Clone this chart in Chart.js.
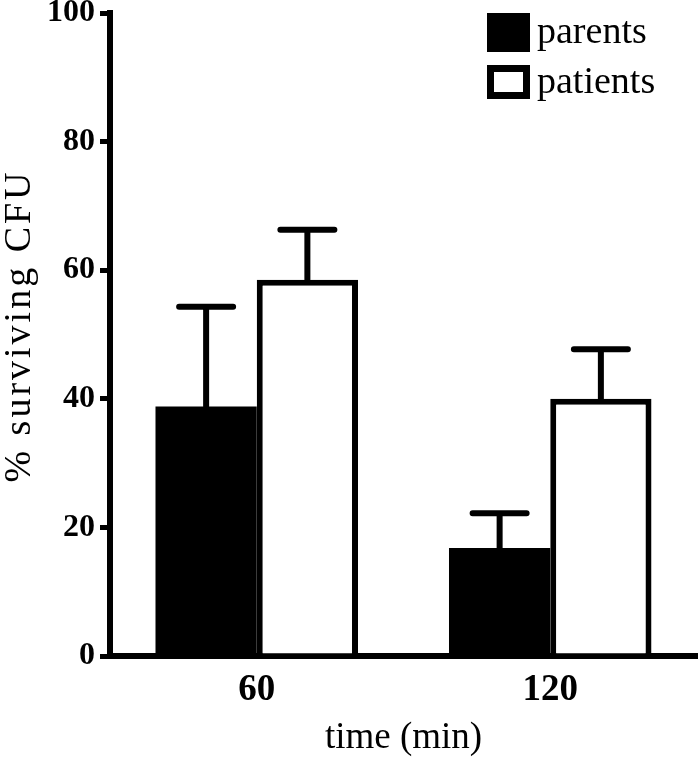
<!DOCTYPE html>
<html>
<head>
<meta charset="utf-8">
<script src="https://cdn.jsdelivr.net/npm/chart.js@4.4.1/dist/chart.umd.min.js"></script>
<style>
html, body { margin: 0; padding: 0; background: #fff; }
#chart { display: block; }
</style>
</head>
<body>
<canvas id="chart" width="700" height="760"></canvas>
<script>
const categories = ["60", "120"];
const parentsValues = [38.8, 16.8];
const parentsErrors = [15.5, 5.4];
const patientsValues = [58.5, 40.0];
const patientsErrors = [7.8, 7.7];
const yTicks = [0, 20, 40, 60, 80, 100];

const serif = "'Liberation Serif', 'Times New Roman', serif";

// one-sided (upward) error bars with a cap
const errorBars = {
	id: "errorBars",
	afterDatasetsDraw(chart) {
		const { ctx } = chart;
		const y = chart.scales.y;
		ctx.save();
		ctx.strokeStyle = "#000";
		ctx.lineWidth = 6;
		ctx.lineCap = "round";
		chart.data.datasets.forEach((ds, i) => {
			chart.getDatasetMeta(i).data.forEach((bar, j) => {
				const top = y.getPixelForValue(ds.data[j] + ds.errors[j]);
				ctx.beginPath();
				ctx.moveTo(bar.x, bar.y);
				ctx.lineTo(bar.x, top);
				ctx.moveTo(bar.x - 27, top);
				ctx.lineTo(bar.x + 27, top);
				ctx.stroke();
			});
		});
		ctx.restore();
	}
};

// legend boxes in the top right corner of the plot
const boxLegend = {
	id: "boxLegend",
	afterDraw(chart) {
		const { ctx } = chart;
		ctx.save();
		ctx.font = "38px " + serif;
		ctx.textBaseline = "alphabetic";
		const boxes = [
			{ top: 13, h: 39, base: 43 },
			{ top: 65, h: 34, base: 93 }
		];
		chart.data.datasets.forEach((ds, i) => {
			const b = boxes[i];
			ctx.fillStyle = "#000";
			ctx.fillRect(487, b.top, 43, b.h);
			if (ds.backgroundColor !== "#000") {
				ctx.fillStyle = ds.backgroundColor;
				ctx.fillRect(494, b.top + 7, 29, b.h - 14);
			}
			ctx.fillStyle = "#000";
			ctx.fillText(ds.label, 537, b.base);
		});
		ctx.restore();
	}
};

// rotated y axis title
const yTitle = {
	id: "yTitle",
	afterDraw(chart) {
		const { ctx } = chart;
		ctx.save();
		ctx.translate(30, 326);
		ctx.rotate(-Math.PI / 2);
		ctx.font = "38px " + serif;
		ctx.letterSpacing = "3px";
		ctx.textAlign = "center";
		ctx.textBaseline = "alphabetic";
		ctx.fillStyle = "#000";
		ctx.fillText("% surviving CFU", 0, 0);
		ctx.restore();
	}
};

new Chart(document.getElementById("chart"), {
	type: "bar",
	data: {
		labels: categories,
		datasets: [
			{
				label: "parents",
				data: parentsValues,
				errors: parentsErrors,
				backgroundColor: "#000",
				borderWidth: 0
			},
			{
				label: "patients",
				data: patientsValues,
				errors: patientsErrors,
				backgroundColor: "#fff",
				borderColor: "#000",
				borderWidth: 6,
				borderSkipped: "bottom"
			}
		]
	},
	options: {
		responsive: false,
		animation: false,
		layout: { padding: { top: 13, right: 3, left: 0, bottom: 0 } },
		datasets: {
			bar: { categoryPercentage: 0.69, barPercentage: 1 }
		},
		plugins: {
			legend: { display: false },
			tooltip: { enabled: false }
		},
		scales: {
			x: {
				grid: { display: true, drawOnChartArea: false, drawTicks: false },
				border: { display: true, color: "#000", width: 6 },
				ticks: {
					color: "#000",
					padding: 12,
					font: { family: serif, size: 37, weight: "bold" }
				},
				title: {
					display: true,
					text: "time (min)",
					color: "#000",
					padding: { top: 2, bottom: 0 },
					font: { family: serif, size: 37 }
				},
				afterFit(scale) {
					scale.height = 104;
					scale.paddingLeft = 0;
					scale.paddingRight = 0;
				}
			},
			y: {
				min: 0,
				max: 100,
				afterBuildTicks(scale) {
					scale.ticks = yTicks.map(v => ({ value: v }));
				},
				grid: {
					drawOnChartArea: false,
					drawTicks: true,
					tickLength: 10,
					lineWidth: 5,
					color: "#000"
				},
				border: { display: true, color: "#000", width: 6 },
				ticks: {
					color: "#000",
					padding: 5,
					font: { family: serif, size: 32, weight: "bold" }
				},
				afterFit(scale) {
					scale.width = 110;
					scale.paddingTop = 0;
					scale.paddingBottom = 0;
				}
			}
		}
	},
	plugins: [errorBars, boxLegend, yTitle]
});
</script>
</body>
</html>
